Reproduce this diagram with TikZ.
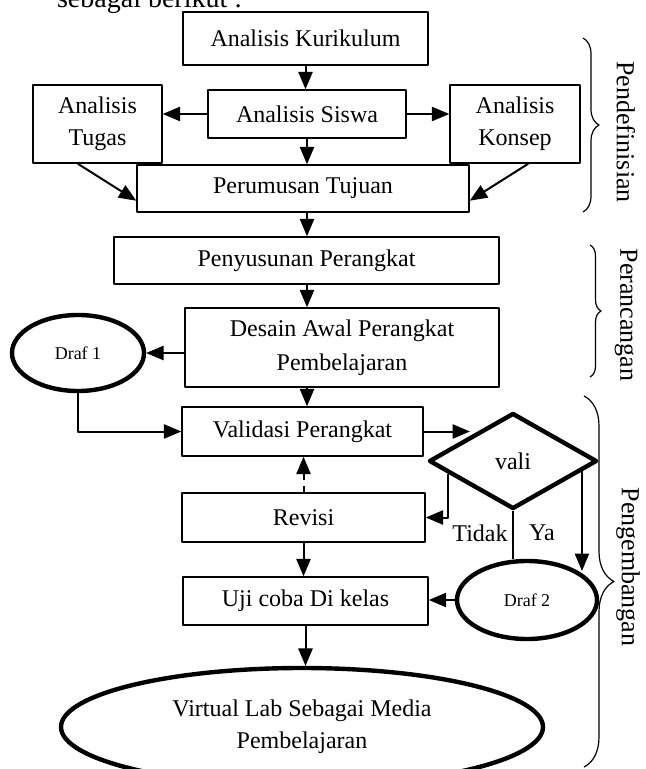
\documentclass[tikz,border=0pt]{standalone}
\usepackage{fontspec}
\setmainfont{Liberation Serif}
\usetikzlibrary{calc}
\usetikzlibrary{arrows}
\usetikzlibrary{shapes.geometric}
\usetikzlibrary{decorations.pathreplacing}

\begin{document}
\begin{tikzpicture}[x=0.5pt, y=-0.5pt, line join=round, >=triangle 45]
\tikzstyle{box}=[draw=black, rectangle, line width=0.8pt, align=center, inner sep=0pt, font=\fontsize{12}{16}\selectfont]
\tikzstyle{oval}=[draw=black, ellipse, line width=2.2pt, align=center, inner sep=0pt]
\tikzstyle{decision}=[draw=black, diamond, line width=2.2pt, inner sep=0pt, font=\fontsize{12}{16}\selectfont]
\tikzstyle{arr}=[->, line width=1pt]
\tikzstyle{kurung}=[decorate, line width=0.6pt]
\tikzstyle{fase}=[rotate=-90, font=\fontsize{13}{15}\selectfont]
\clip (0,0) rectangle (646,769);

\node[anchor=base west, font=\fontsize{14}{16}\selectfont] (intro) at (50,8) {sebagai berikut :};

% tahap pendefinisian
\node[box, minimum width=122.5pt, minimum height=26.5pt] (kur) at (305.5,38.5) {Analisis Kurikulum};
\node[box, minimum width=99pt, minimum height=24pt] (sis) at (307,114) {Analisis Siswa};
\node[box, minimum width=64.5pt, minimum height=39pt] (tug) at (97.5,124) {Analisis\\Tugas};
\node[box, minimum width=65pt, minimum height=39pt] (kon) at (515,124) {Analisis\\Konsep};
\node[box, minimum width=166pt, minimum height=23.5pt] (tuj) at (303,188.5) {Perumusan Tujuan};

% tahap perancangan
\node[box, minimum width=192.5pt, minimum height=23.5pt] (sus) at (306.5,260.5) {Penyusunan Perangkat};
\node[box, minimum width=157pt, minimum height=39.5pt] (des) at (342,347.5) {Desain Awal Perangkat\\[1pt]Pembelajaran};
\node[oval, minimum width=66pt, minimum height=38pt, font=\fontsize{9}{11}\selectfont] (d1) at (78,353) {Draf 1};

% tahap pengembangan
\node[box, minimum width=120.5pt, minimum height=24.5pt] (val) at (302.5,431.5) {Validasi Perangkat};
\node[decision, minimum width=84pt, minimum height=48pt] (vali) at (513,461) {vali};
\node[box, minimum width=121.5pt, minimum height=24.5pt] (rev) at (303.5,517.5) {Revisi};
\node[box, minimum width=122.5pt, minimum height=24pt] (uji) at (305.5,601) {Uji coba Di kelas};
\node[oval, minimum width=70pt, minimum height=39pt, font=\fontsize{9}{11}\selectfont] (d2) at (527,600) {Draf 2};
\node[oval, minimum width=241pt, minimum height=59pt, font=\fontsize{12}{16}\selectfont] (vl) at (302,727) {Virtual Lab Sebagai Media\\Pembelajaran};
\node[font=\fontsize{12}{14}\selectfont] (tidak) at (480,533) {Tidak};
\node[font=\fontsize{12}{14}\selectfont] (ya) at (542,533) {Ya};

\coordinate (tdk) at ($(vali.west)!0.25!(vali.south)$);
\coordinate (yes) at ($(vali.east)!0.2!(vali.south)$);

\draw[arr] (kur.south) -- (kur.south |- sis.north);
\draw[arr] (sis.west) -- (tug.east |- sis.west);
\draw[arr] (sis.east) -- (kon.west |- sis.east);
\draw[arr] (sis.south) -- (sis.south |- tuj.north);
\draw[arr] ($(tug.south west)!0.35!(tug.south east)$) -- ($(tuj.west)!0.5!(tuj.south west)$);
\draw[arr] ($(kon.south west)!0.6!(kon.south east)$) -- ($(tuj.east)!0.5!(tuj.south east)$);
\draw[arr] (tuj.south -| sis.south) -- (sus.north -| sis.south);
\draw[arr] (sus.south -| sis.south) -- (des.north -| sis.south);
\draw[arr] (des.west |- d1.east) -- (d1.east);
\draw[arr] (d1.south) |- (val.west);
\draw[arr] (des.south -| sis.south) -- (val.north -| sis.south);
\draw[arr] (val.east) -- (val.east -| vali.north west);
\draw[arr] (tdk) |- (rev.east);
\draw[line width=0.8pt] (vali.south) -- (vali.south |- d2.north);
\draw[arr] (yes) -- (yes |- d2.north east);
\draw[arr, dashed] (rev.north) -- (rev.north |- val.south);
\draw[arr] (rev.south) -- (rev.south |- uji.north);
\draw[arr] (d2.west) -- (d2.west -| uji.east);
\draw[arr] (uji.south) -- (uji.south |- vl.north);

% kurung kurawal
\coordinate (b1a) at (583,38);
\coordinate (b1b) at (583,212);
\coordinate (b2a) at (590,245);
\coordinate (b2b) at (590,377);
\coordinate (b3a) at (584,396);
\coordinate (b3b) at (584,767);
\draw[kurung, decoration={brace, amplitude=8pt}] (b1a) -- (b1b);
\draw[kurung, decoration={brace, amplitude=5.5pt}] (b2a) -- (b2b);
\draw[kurung, decoration={brace, amplitude=15pt}] (b3a) -- (b3b);
\node[fase] (fdef) at (626,132) {Pendefinisian};
\node[fase] (fran) at (626,315) {Perancangan};
\node[fase] (fbang) at (628,567) {Pengembangan};
\end{tikzpicture}
\end{document}
